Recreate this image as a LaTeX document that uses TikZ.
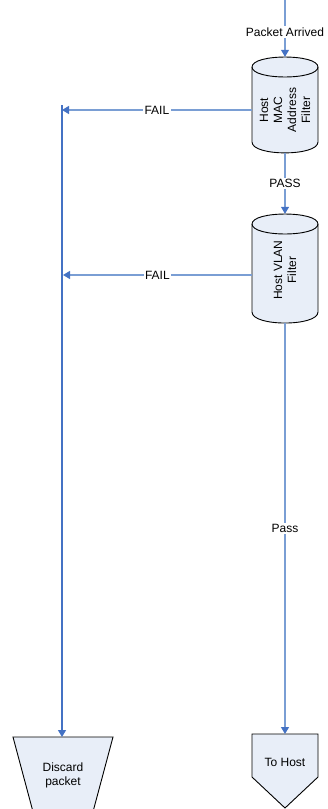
\documentclass[tikz,border=0pt]{standalone}
\usepackage{fontspec}
\setmainfont{Liberation Sans}
\usetikzlibrary{arrows.meta}
\definecolor{lineblue}{RGB}{122,158,212}
\definecolor{darkblue}{RGB}{68,114,196}
\definecolor{shapefill}{RGB}{232,238,248}
\begin{document}
\begin{tikzpicture}[x=1pt,y=-1pt,
  conn/.style={draw=lineblue, line width=1.2pt},
  darkconn/.style={draw=darkblue, line width=1.2pt},
  tip/.style={-{Triangle[length=7pt,width=8pt,color=darkblue]}},
  outline/.style={draw=black, line width=0.9pt, fill=shapefill},
  lbl/.style={font=\fontsize{12}{14}\selectfont, fill=white, inner sep=1.5pt},
  txt/.style={font=\fontsize{12}{14}\selectfont, align=center, inner sep=0pt},
  anchorbox/.style={draw=none, inner sep=0pt, minimum width=66pt}]
\useasboundingbox (0,0) rectangle (328,809);
\clip (0,0) rectangle (328,809);

% anchor nodes
\node[anchorbox, minimum height=96pt] (mac) at (285,105) {};
\node[anchorbox, minimum height=109pt] (vlan) at (285,268.5) {};
\node[anchorbox, minimum height=74pt, anchor=north] (tohost) at (285,734) {};
\node[draw=none, inner sep=0pt, minimum width=100pt, minimum height=72pt, anchor=north] (discard) at (62,737) {};
\coordinate (in) at (285,0);
\coordinate (j) at (62,105);
\coordinate (f1) at (62,110);
\coordinate (f2) at (63,275);

% cylinder 1
\path[outline] (252,67) -- (252,142) .. controls (252,156.5) and (318,156.5) .. (318,142)
  -- (318,67) .. controls (318,53.7) and (252,53.7) .. (252,67) -- cycle;
\draw[black, line width=0.9pt] (252,67) .. controls (252,80.3) and (318,80.3) .. (318,67);
\node[txt, rotate=90] (mactext) at (285,110) {Host\\MAC\\Address\\Filter};

% cylinder 2
\path[outline] (252,224) -- (252,312) .. controls (252,326.7) and (318,326.7) .. (318,312)
  -- (318,224) .. controls (318,210.7) and (252,210.7) .. (252,224) -- cycle;
\draw[black, line width=0.9pt] (252,224) .. controls (252,237.3) and (318,237.3) .. (318,224);
\node[txt, rotate=90] (vlantext) at (285,270) {Host VLAN\\Filter};

% to host
\path[outline] (252,734) -- (318,734) -- (318,777) -- (285,808) -- (252,777) -- cycle;
\node[txt] (tohosttext) at (285,762) {To Host};

% discard
\path[outline] (13,737) -- (113,737) -- (91.6,817) -- (34.4,817) -- cycle;
\node[txt] (discardtext) at (63,775) {Discard\\packet};

% connectors
\draw[conn, tip] (in) -- node[lbl, pos=0.56] {Packet Arrived} (mac.north);
\draw[conn, tip] (mac.south) -- node[lbl] {PASS} (vlan.north);
\draw[conn, tip] (mac.west |- f1) -- node[lbl] {FAIL} (f1);
\draw[conn, tip] (vlan.west |- f2) -- node[lbl] {FAIL} (f2);
\draw[conn, tip] (vlan.south) -- node[lbl] {Pass} (tohost.north);
\draw[darkconn, tip] (j) -- (discard.north);
\end{tikzpicture}
\end{document}
